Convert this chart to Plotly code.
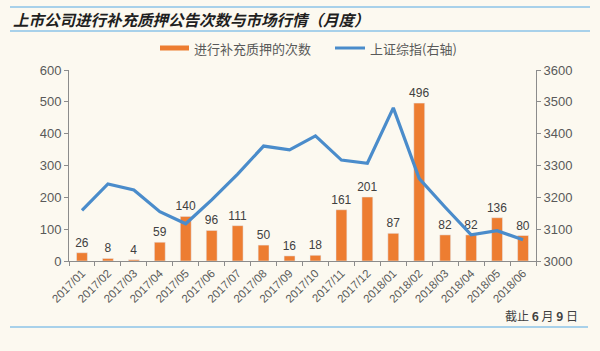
import plotly.graph_objects as go

months = ["2017/01", "2017/02", "2017/03", "2017/04", "2017/05", "2017/06",
          "2017/07", "2017/08", "2017/09", "2017/10", "2017/11", "2017/12",
          "2018/01", "2018/02", "2018/03", "2018/04", "2018/05", "2018/06"]
pledge_counts = [26, 8, 4, 59, 140, 96, 111, 50, 16, 18, 161, 201, 87, 496, 82, 82, 136, 80]
sh_index = [3159, 3242, 3223, 3155, 3117, 3192, 3273, 3361, 3349, 3393, 3317, 3307,
            3481, 3259, 3169, 3082, 3095, 3067]

title_text = "上市公司进行补充质押公告次数与市场行情（月度）"
bar_name = "进行补充质押的次数"
line_name = "上证综指(右轴)"
note_text = "截止 <b>6</b> 月 <b>9</b> 日"

BG = "#FCF9F0"
ORANGE = "#ED7D31"
BLUE = "#4A8CCB"
GREY = "#595959"
AXIS = "#8C8C8C"
RULE = "#8CC3E8"
CJK = "Noto Sans CJK SC"
LAT = "Liberation Sans, Arial"

fig = go.Figure()
fig.add_trace(go.Bar(
    x=months, y=pledge_counts, name=bar_name, marker_color=ORANGE,
    width=0.42, text=[str(v) for v in pledge_counts], textposition="outside",
    constraintext="none", textangle=0,
    textfont=dict(family=LAT, size=12, color="#404040"), cliponaxis=False,
    showlegend=False,
))
fig.add_trace(go.Scatter(
    x=months, y=sh_index, name=line_name, mode="lines", yaxis="y2",
    line=dict(color=BLUE, width=3.2), showlegend=False,
))

fig.update_layout(
    width=600, height=351,
    paper_bgcolor=BG, plot_bgcolor=BG,
    margin=dict(l=69, r=64, t=70, b=90),
    xaxis=dict(
        type="category", tickangle=-45, tickson="boundaries",
        ticks="outside", ticklen=4, tickcolor=AXIS,
        showline=True, linecolor=AXIS, linewidth=1,
        showgrid=False, tickfont=dict(family=LAT, size=11.5, color=GREY),
    ),
    yaxis=dict(
        range=[0, 600], dtick=100, ticks="outside", ticklen=4, tickcolor=AXIS,
        showline=True, linecolor=AXIS, linewidth=1, showgrid=False, zeroline=False,
        tickfont=dict(family=LAT, size=13, color=GREY),
    ),
    yaxis2=dict(
        range=[3000, 3600], dtick=100, overlaying="y", side="right",
        ticks="outside", ticklen=4, tickcolor=AXIS,
        showline=True, linecolor=AXIS, linewidth=1, showgrid=False, zeroline=False,
        tickfont=dict(family=LAT, size=13, color=GREY),
    ),
)

pw = 600 - 69 - 64
ph = 351 - 70 - 90

def px(x):
    return (x - 69) / pw

def py(y):
    return (351 - 90 - y) / ph

shapes = [
    dict(type="line", xref="paper", yref="paper", x0=px(10), x1=px(590), y0=py(7), y1=py(7),
         line=dict(color=RULE, width=1.5)),
    dict(type="line", xref="paper", yref="paper", x0=px(10), x1=px(590), y0=py(31), y1=py(31),
         line=dict(color=RULE, width=1.5)),
    dict(type="line", xref="paper", yref="paper", x0=px(10), x1=px(588), y0=py(327), y1=py(327),
         line=dict(color=RULE, width=1.5)),
    dict(type="rect", xref="paper", yref="paper", x0=px(160), x1=px(189), y0=py(45.5), y1=py(50.5),
         fillcolor=ORANGE, line=dict(width=0)),
    dict(type="line", xref="paper", yref="paper", x0=px(335), x1=px(365), y0=py(48), y1=py(48),
         line=dict(color=BLUE, width=3)),
]
annotations = [
    dict(text="<b><i>" + title_text + "</i></b>", xref="paper", yref="paper",
         x=px(11), y=py(19), xanchor="left", yanchor="middle", showarrow=False,
         font=dict(family=CJK, size=15.5, color="#1F1F1F")),
    dict(text=bar_name, xref="paper", yref="paper", x=px(192), y=py(48),
         xanchor="left", yanchor="middle", showarrow=False,
         font=dict(family=CJK, size=13, color=GREY)),
    dict(text=line_name, xref="paper", yref="paper", x=px(368), y=py(48),
         xanchor="left", yanchor="middle", showarrow=False,
         font=dict(family=CJK, size=13, color=GREY)),
    dict(text=note_text, xref="paper", yref="paper", x=px(580), y=py(315),
         xanchor="right", yanchor="middle", showarrow=False,
         font=dict(family=CJK, size=12, color="#404040")),
]
fig.update_layout(shapes=shapes, annotations=annotations)

fig.write_html("out.html")
